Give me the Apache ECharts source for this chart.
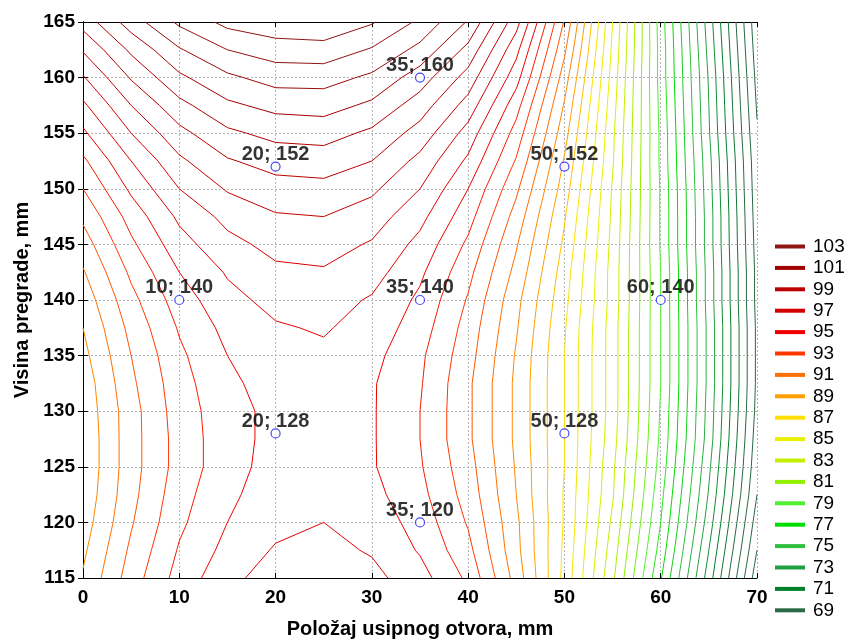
<!DOCTYPE html>
<html><head><meta charset="utf-8">
<script src="https://cdn.jsdelivr.net/npm/echarts/dist/echarts.min.js"></script>
<style>html,body{margin:0;padding:0;background:#fff}#c{width:846px;height:641px}</style>
</head><body><div id="c"></div>
<script>
// grid of the response surface (x = Položaj usipnog otvora, y = Visina pregrade)
const gridX = [0,5,10,15,20,25,30,35,40,45,50,55,60,65,70];
const gridY = [115,117.5,120,122.5,125,127.5,130,132.5,135,137.5,140,142.5,145,147.5,150,152.5,155,157.5,160,162.5,165];
// one row per gridY value, one column per gridX value
const zGrid = [
  [90.1,92.5,94.4,95.7,96.5,96.7,96.3,95.4,93.8,90.6,86.7,82.2,77.1,71.5,65.4],
  [89.8,92.2,94.1,95.3,96.1,96.3,95.9,94.9,93.3,90.3,86.8,82.5,77.6,72.0,66.0],
  [89.5,91.9,93.8,95.0,95.7,96.0,95.6,94.6,92.9,90.2,86.9,82.8,78.0,72.5,66.5],
  [89.3,91.7,93.6,94.8,95.5,95.7,95.3,94.3,92.6,90.0,86.9,83.1,78.3,72.9,67.0],
  [89.2,91.6,93.4,94.6,95.4,95.6,95.1,94.1,92.4,89.9,87.0,83.2,78.6,73.2,67.3],
  [89.2,91.6,93.4,94.6,95.3,95.5,95.1,94.0,92.2,89.8,87.0,83.4,78.8,73.5,67.5],
  [89.3,91.6,93.5,94.6,95.3,95.5,95.1,94.0,92.2,89.8,87.0,83.5,78.9,73.6,67.7],
  [89.4,91.8,93.6,94.8,95.4,95.6,95.1,94.1,92.2,89.8,87.0,83.5,79.0,73.7,67.8],
  [89.7,92.0,93.8,95.0,95.6,95.8,95.3,94.2,92.4,89.9,87.0,83.5,79.0,73.7,67.8],
  [90.0,92.3,94.1,95.3,95.9,96.1,95.6,94.5,92.6,90.1,87.1,83.5,79.0,73.7,67.8],
  [90.4,92.7,94.5,95.7,96.3,96.4,95.9,94.8,92.9,90.3,87.3,83.6,79.0,73.6,67.7],
  [90.9,93.2,95.0,96.1,96.8,96.9,96.4,95.2,93.3,90.7,87.5,83.6,79.0,73.6,67.7],
  [91.5,93.8,95.6,96.7,97.3,97.4,96.9,95.7,93.8,91.1,87.8,83.7,78.9,73.5,67.6],
  [92.2,94.4,96.2,97.3,97.9,98.0,97.5,96.3,94.4,91.6,88.1,83.8,78.9,73.5,67.5],
  [93.0,95.2,97.0,98.1,98.6,98.7,98.2,97.0,95.0,92.2,88.5,83.9,78.9,73.4,67.4],
  [93.8,96.0,97.8,98.9,99.4,99.5,99.0,97.7,95.8,92.9,88.9,84.1,78.8,73.3,67.3],
  [94.8,97.0,98.7,99.8,100.3,100.4,99.8,98.6,96.6,93.6,89.4,84.2,78.8,73.1,67.1],
  [95.8,98.0,99.7,100.8,101.3,101.4,100.8,99.5,97.6,94.4,89.9,84.4,78.7,73.0,66.9],
  [96.9,99.1,100.8,101.8,102.4,102.4,101.8,100.5,98.6,95.4,90.5,84.6,78.6,72.9,66.7],
  [98.1,100.2,101.9,103.0,103.5,103.6,102.9,101.7,99.7,96.3,91.2,84.8,78.6,72.7,66.5],
  [99.4,101.5,103.2,104.3,104.7,104.8,104.1,102.8,100.9,97.4,91.9,85.0,78.5,72.5,66.3]
];
const levelMin = 64, levelMax = 106;
const legendLevels = ['103','101','99','97','95','93','91','89','87','85','83','81','79','77','75','73','71','69'];
const colorStops = [[69,'#2a6a45'],[71,'#00802a'],[73,'#20a040'],[75,'#30c040'],[77,'#00dd00'],[79,'#50f030'],[81,'#90f000'],[83,'#c4f000'],[85,'#e8f000'],[87,'#ffe000'],[89,'#ffa000'],[91,'#ff7000'],[93,'#ff3800'],[95,'#ee0000'],[97,'#d40000'],[99,'#bb0000'],[101,'#a30000'],[103,'#901515']];
const labels = ['10; 140','20; 152','20; 128','35; 160','35; 140','35; 120','50; 152','50; 128','60; 140'];
const ptX = [10,20,20,35,35,35,50,50,60];
const ptY = [140,152,128,160,140,120,152,128,140];

function hex(c){return [parseInt(c.substr(1,2),16),parseInt(c.substr(3,2),16),parseInt(c.substr(5,2),16)];}
function colorFor(L){
  if (L <= colorStops[0][0]) return colorStops[0][1];
  if (L >= colorStops[colorStops.length-1][0]) return colorStops[colorStops.length-1][1];
  for (let k=0;k<colorStops.length-1;k++){
    const [l0,c0]=colorStops[k],[l1,c1]=colorStops[k+1];
    if (L>=l0 && L<=l1){const t=(L-l0)/(l1-l0);const a=hex(c0),b=hex(c1);
      return 'rgb('+a.map((v,i)=>Math.round(v+(b[i]-v)*t)).join(',')+')';}
  }
}
// marching squares on the grid, segments chained into polylines
function contour(L){
  const Z=zGrid, nx=gridX.length, ny=gridY.length, segs=[];
  const pt=(i1,j1,i2,j2)=>{const z1=Z[j1][i1],z2=Z[j2][i2];const t=(L-z1)/(z2-z1);
    return [gridX[i1]+(gridX[i2]-gridX[i1])*t, gridY[j1]+(gridY[j2]-gridY[j1])*t];};
  for(let j=0;j<ny-1;j++)for(let i=0;i<nx-1;i++){
    const a=Z[j][i],b=Z[j][i+1],c=Z[j+1][i+1],d=Z[j+1][i];
    const A=a>=L,B=b>=L,C=c>=L,D=d>=L;
    const e=[];
    if(A!==B)e.push({k:'h'+i+'_'+j,p:pt(i,j,i+1,j)});
    if(B!==C)e.push({k:'v'+(i+1)+'_'+j,p:pt(i+1,j,i+1,j+1)});
    if(D!==C)e.push({k:'h'+i+'_'+(j+1),p:pt(i,j+1,i+1,j+1)});
    if(A!==D)e.push({k:'v'+i+'_'+j,p:pt(i,j,i,j+1)});
    if(e.length===2)segs.push([e[0],e[1]]);
    else if(e.length===4){const m=(a+b+c+d)/4>=L;
      if(m===A){segs.push([e[0],e[1]]);segs.push([e[2],e[3]]);}
      else{segs.push([e[3],e[0]]);segs.push([e[1],e[2]]);}}
  }
  const map={};segs.forEach((s,idx)=>{s.forEach(q=>{(map[q.k]=map[q.k]||[]).push(idx);});});
  const used=new Array(segs.length).fill(false),lines=[];
  for(let s0=0;s0<segs.length;s0++){if(used[s0])continue;used[s0]=true;
    let chain=[segs[s0][0],segs[s0][1]];
    for(let dir=0;dir<2;dir++){
      while(true){const end=chain[chain.length-1];const nb=(map[end.k]||[]).find(n=>!used[n]);
        if(nb===undefined)break;used[nb]=true;const s=segs[nb];chain.push(s[0].k===end.k?s[1]:s[0]);}
      chain.reverse();
    }
    lines.push({coords:chain.map(q=>q.p)});
  }
  return lines;
}

const font='Liberation Sans, Arial, sans-serif';
const series=[];
for(let L=levelMin;L<=levelMax;L++){const d=contour(L);if(!d.length)continue;
  series.push({type:'lines',name:String(L),coordinateSystem:'cartesian2d',polyline:true,silent:true,
    data:d,lineStyle:{color:colorFor(L),width:1,opacity:1},itemStyle:{color:colorFor(L)},animation:false,z:2});}
series.push({type:'scatter',name:'pts',data:ptX.map((x,i)=>({value:[x,ptY[i]],name:labels[i]})),
  symbol:'circle',symbolSize:9,itemStyle:{color:'#ffffff',borderColor:'#1a1aff',borderWidth:1.2},
  label:{show:true,position:'top',distance:0,offset:[0,3],formatter:p=>p.name,color:'#000',fontWeight:'bold',fontSize:20,fontFamily:font},
  z:5,animation:false,silent:true});
legendLevels.forEach(n=>{if(!series.find(s=>s.name===n))series.push({type:'line',name:n,data:[],itemStyle:{color:colorFor(+n)},lineStyle:{color:colorFor(+n)}});});

const chart=echarts.init(document.getElementById('c'),null,{renderer:'canvas'});
chart.setOption({
  animation:false,backgroundColor:'#fff',
  grid:{left:83,right:89,top:22,bottom:63,containLabel:false,outerBoundsMode:'none'},
  legend:{data:legendLevels.map(n=>({name:n,itemStyle:{color:colorFor(+n)}})),orient:'vertical',left:775,top:237,padding:0,
    icon:'rect',itemWidth:28,itemHeight:2,itemGap:2.4,selectedMode:false,
    textStyle:{fontSize:19,fontFamily:font,color:'#000',lineHeight:19,padding:[0,0,0,4]}},
  xAxis:[{type:'value',min:0,max:70,interval:10,position:'bottom',
    name:'Položaj usipnog otvora, mm',nameLocation:'middle',nameGap:41,
    nameTextStyle:{fontSize:20,fontWeight:'bold',fontFamily:font,color:'#000'},
    axisLine:{lineStyle:{color:'#000',width:1}},axisTick:{inside:true,length:5,lineStyle:{color:'#000'}},
    axisLabel:{fontSize:19,fontWeight:'bold',fontFamily:font,color:'#000',margin:10},
    splitLine:{show:true,lineStyle:{color:'#b4b4b4',type:[2,2],width:1}}},
   {type:'value',min:0,max:70,interval:10,position:'top',axisLine:{lineStyle:{color:'#000'}},
    axisTick:{inside:true,length:5,lineStyle:{color:'#000'}},axisLabel:{show:false},splitLine:{show:false}}],
  yAxis:[{type:'value',min:115,max:165,interval:5,position:'left',
    name:'Visina pregrade, mm',nameLocation:'middle',nameGap:50,nameRotate:90,
    nameTextStyle:{fontSize:20,fontWeight:'bold',fontFamily:font,color:'#000'},
    axisLine:{show:true,lineStyle:{color:'#000',width:1}},axisTick:{show:true,inside:true,length:5,lineStyle:{color:'#000'}},
    axisLabel:{fontSize:19,fontWeight:'bold',fontFamily:font,color:'#000',margin:8},
    splitLine:{show:true,lineStyle:{color:'#b4b4b4',type:[2,2],width:1}}},
   {type:'value',min:115,max:165,interval:5,position:'right',axisLine:{show:true,lineStyle:{color:'#000'}},
    axisTick:{show:true,inside:true,length:5,lineStyle:{color:'#000'}},axisLabel:{show:false},splitLine:{show:false}}],
  series:series
});
</script></body></html>
